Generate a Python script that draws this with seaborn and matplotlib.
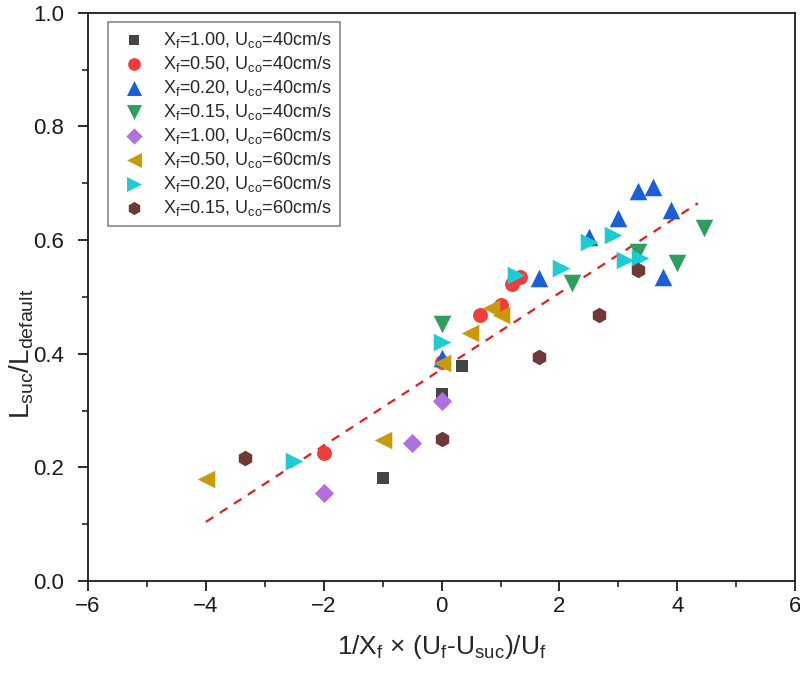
import numpy as np
import pandas as pd
import matplotlib
matplotlib.use("Agg")
import matplotlib.pyplot as plt
import seaborn as sns
from matplotlib.ticker import MultipleLocator

sns.set_theme(style="ticks")
plt.rcParams['font.family'] = ['Liberation Sans', 'DejaVu Sans']
plt.rcParams['mathtext.fontset'] = 'custom'
plt.rcParams['mathtext.rm'] = 'Liberation Sans'
plt.rcParams['mathtext.it'] = 'Liberation Sans'
plt.rcParams['mathtext.default'] = 'rm'

labels = [
    r'X$_{f}$=1.00, U$_{co}$=40cm/s',
    r'X$_{f}$=0.50, U$_{co}$=40cm/s',
    r'X$_{f}$=0.20, U$_{co}$=40cm/s',
    r'X$_{f}$=0.15, U$_{co}$=40cm/s',
    r'X$_{f}$=1.00, U$_{co}$=60cm/s',
    r'X$_{f}$=0.50, U$_{co}$=60cm/s',
    r'X$_{f}$=0.20, U$_{co}$=60cm/s',
    r'X$_{f}$=0.15, U$_{co}$=60cm/s',
]

x1 = [-1.0, 0.0, 0.34]
y1 = [0.181, 0.330, 0.378]
x2 = [-2.0, 0.0, 0.65, 1.0, 1.2, 1.33]
y2 = [0.225, 0.385, 0.468, 0.486, 0.522, 0.535]
x3 = [0.0, 1.66, 2.5, 3.0, 3.34, 3.58, 3.89, 3.75]
y3 = [0.392, 0.533, 0.605, 0.639, 0.686, 0.694, 0.653, 0.535]
x4 = [0.0, 2.22, 3.34, 4.0, 4.45]
y4 = [0.452, 0.525, 0.579, 0.560, 0.621]
x5 = [-2.0, -0.5, 0.0]
y5 = [0.155, 0.243, 0.317]
x6 = [-4.0, -1.0, 0.0, 0.48, 0.83, 1.0]
y6 = [0.180, 0.248, 0.384, 0.437, 0.480, 0.468]
x7 = [-2.5, 0.0, 1.27, 2.02, 2.5, 2.9, 3.12, 3.37]
y7 = [0.211, 0.420, 0.538, 0.551, 0.597, 0.609, 0.565, 0.569]
x8 = [-3.33, 0.0, 1.66, 2.67, 3.33]
y8 = [0.217, 0.250, 0.394, 0.468, 0.548]

fit_x = [-4.0, 4.35]
fit_y = [0.104, 0.665]

xs = [x1, x2, x3, x4, x5, x6, x7, x8]
ys = [y1, y2, y3, y4, y5, y6, y7, y8]

rows = []
for lab, xx, yy in zip(labels, xs, ys):
    for a, b in zip(xx, yy):
        rows.append({'x': a, 'y': b, 'series': lab})
df = pd.DataFrame(rows)

colors = ['#454545', '#f03c3c', '#1a5fd8', '#2e9e5e', '#b070e0', '#c99a08', '#1ecbd2', '#6e3a36']
marks = ['s', 'o', '^', 'v', 'D', '<', '>', 'h']
sizes = [85, 115, 160, 160, 95, 160, 160, 125]
palette = dict(zip(labels, colors))
markers = dict(zip(labels, marks))

fig = plt.figure(figsize=(8, 6.76), dpi=100)
ax = fig.add_axes([0.11, 0.1405, 0.884, 0.8405])

for lab, s in zip(labels, sizes):
    sub = df[df['series'] == lab]
    sns.scatterplot(data=sub, x='x', y='y', color=palette[lab], marker=markers[lab],
                    s=s, linewidth=0, ax=ax, label=lab, zorder=3)

sns.lineplot(x=fit_x, y=fit_y, ax=ax, color='#e02020', linestyle=(0, (4, 3.5)),
             linewidth=1.6, zorder=2)

ax.set_xlim(-6, 6)
ax.set_ylim(0, 1.0)
ax.xaxis.set_major_locator(MultipleLocator(2))
ax.xaxis.set_minor_locator(MultipleLocator(1))
ax.yaxis.set_major_locator(MultipleLocator(0.2))
ax.yaxis.set_minor_locator(MultipleLocator(0.1))
ax.set_xticklabels([f'{int(v)}'.replace('-', '\u2212') for v in ax.get_xticks()])
ax.set_yticklabels([f'{v:.1f}' for v in ax.get_yticks()])
ax.tick_params(which='major', direction='out', length=7, width=1.3, labelsize=16, colors='#1a1a1a')
ax.tick_params(which='minor', direction='out', length=4, width=1.2)
ax.tick_params(axis='y', which='major', pad=10)
for sp in ax.spines.values():
    sp.set_linewidth(1.3)
    sp.set_color('#1a1a1a')

ax.set_xlabel(r'1/X$_{f}$ × (U$_{f}$-U$_{suc}$)/U$_{f}$', fontsize=19, labelpad=12)
ax.set_ylabel(r'L$_{suc}$/L$_{default}$', fontsize=20)
ax.yaxis.set_label_coords(-0.074, 0.40)

h, l = ax.get_legend_handles_labels()
leg = ax.legend(h[:8], l[:8], loc='upper left', bbox_to_anchor=(0.028, 0.984), borderaxespad=0,
                fontsize=13, frameon=True, fancybox=False, edgecolor='#888888', framealpha=1,
                handletextpad=0.6, borderpad=0.45, labelspacing=0.22, markerscale=0.85)
leg.get_frame().set_linewidth(1.2)

fig.savefig('out.png', dpi=100)
